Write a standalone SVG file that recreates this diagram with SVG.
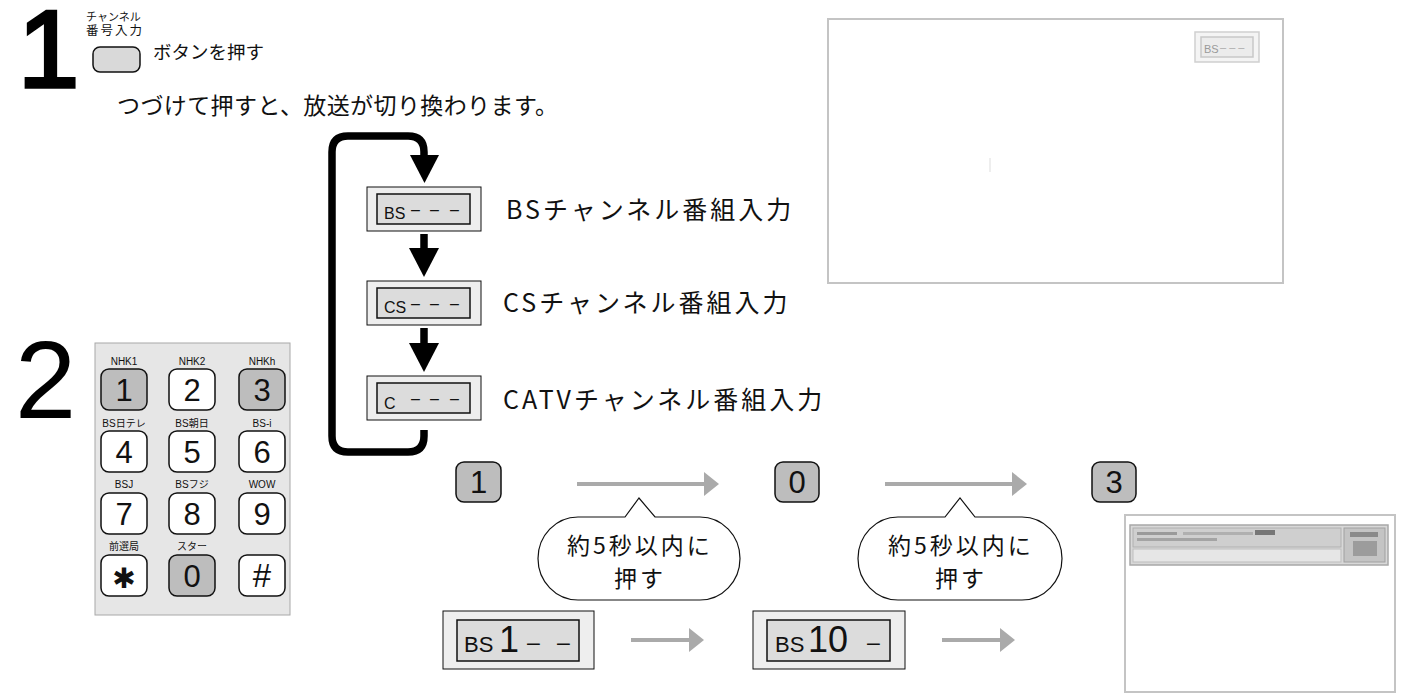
<svg xmlns="http://www.w3.org/2000/svg" width="1414" height="695" viewBox="0 0 1414 695">
<style>
.jp{font-family:"Noto Sans CJK JP","Liberation Sans",sans-serif;fill:#111}
.la{font-family:"Liberation Sans","Noto Sans CJK JP",sans-serif;fill:#111}
.big{font-family:"Liberation Sans",sans-serif;font-size:110px;fill:#000}
.key{stroke:#111;stroke-width:1.5}
.kw{fill:#fff}
.kg{fill:#bdbdbd}
.kl{font-family:"Liberation Sans","Noto Sans CJK JP",sans-serif;font-size:10px;fill:#111;text-anchor:middle}
.kd{font-family:"Liberation Sans",sans-serif;font-size:31px;fill:#111;text-anchor:middle}
.dout{fill:#eeeeee;stroke:#111;stroke-width:1}
.din{fill:#dcdcdc;stroke:#111;stroke-width:1.5}
.bub{fill:#fff;stroke:#111;stroke-width:1.2}
.garr{stroke:#aaaaaa;stroke-width:4;fill:none}
.ghead{fill:#aaaaaa}
.scr{fill:#fff;stroke:#c4c4c4;stroke-width:2}
.lbl{font-size:25px;letter-spacing:3px}
.btxt{font-size:23px;letter-spacing:3px;text-anchor:middle}
</style>

<g id="step1">
  <text class="big" x="18" y="87" stroke="#000" stroke-width="3.5">1</text>
  <text class="jp" x="86" y="21" font-size="11">チャンネル</text>
  <text class="jp" x="86" y="35" font-size="12.5" letter-spacing="2">番号入力</text>
  <rect x="93" y="47" width="47" height="25" rx="7" fill="#d9d9d9" stroke="#111" stroke-width="1.5"/>
  <text class="jp" x="153" y="59" font-size="18.5">ボタンを押す</text>
  <text class="jp" x="117" y="114" font-size="23" letter-spacing="0.4">つづけて押すと、放送が切り換わります。</text>
</g>

<g id="screen-top">
  <rect class="scr" x="828" y="19" width="455" height="264"/>
  <rect x="1195" y="32" width="64" height="30" fill="#f4f4f4" stroke="#cfcfcf" stroke-width="1.5"/>
  <rect x="1201" y="37" width="52" height="20" fill="#ececec" stroke="#c8c8c8" stroke-width="1.5"/>
  <text class="la" x="1204" y="53" font-size="11" style="fill:#9a9a9a">BS</text>
  <text class="la" x="1220" y="51" font-size="11" style="fill:#aaa">– – –</text>
  <line x1="990" y1="158" x2="990" y2="172" stroke="#eee" stroke-width="2"/>
</g>

<g id="connectors">
  <path d="M424 158 V152 Q424 136 408 136 H348 Q332 136 332 152 V436 Q332 452 348 452 H408 Q424 452 424 436 V430" fill="none" stroke="#000" stroke-width="7.5"/>
  <polygon points="410,155 439,155 424.5,183" fill="#000"/>
  <line x1="424" y1="234" x2="424" y2="251" stroke="#000" stroke-width="7.5"/>
  <polygon points="409,248 439,248 424,277" fill="#000"/>
  <line x1="424" y1="328" x2="424" y2="345" stroke="#000" stroke-width="7.5"/>
  <polygon points="409,343 439,343 424,372" fill="#000"/>
  <line class="garr" x1="577" y1="484" x2="707" y2="484"/>
  <polygon class="ghead" points="704,472 719,484 704,496"/>
  <line class="garr" x1="885" y1="484" x2="1015" y2="484"/>
  <polygon class="ghead" points="1012,472 1027,484 1012,496"/>
  <line class="garr" x1="631" y1="640" x2="692" y2="640"/>
  <polygon class="ghead" points="689,628 704,640 689,652"/>
  <line class="garr" x1="942" y1="640" x2="1003" y2="640"/>
  <polygon class="ghead" points="1000,628 1015,640 1000,652"/>
</g>

<g id="disp-bs">
  <rect class="dout" x="367" y="187" width="114" height="44"/>
  <rect class="din" x="377" y="194" width="93" height="30"/>
  <text class="la" x="384" y="219" font-size="16">BS</text>
  <text class="la" x="411 430 450" y="215" font-size="16">–––</text>
  <text class="jp lbl" x="506" y="219">BSチャンネル番組入力</text>
</g>
<g id="disp-cs">
  <rect class="dout" x="367" y="281" width="114" height="44"/>
  <rect class="din" x="377" y="288" width="93" height="30"/>
  <text class="la" x="384" y="313" font-size="16">CS</text>
  <text class="la" x="411 430 450" y="309" font-size="16">–––</text>
  <text class="jp lbl" x="503" y="312">CSチャンネル番組入力</text>
</g>
<g id="disp-catv">
  <rect class="dout" x="367" y="376" width="114" height="44"/>
  <rect class="din" x="377" y="383" width="93" height="30"/>
  <text class="la" x="384" y="409" font-size="16">C</text>
  <text class="la" x="411 430 450" y="404" font-size="16">–––</text>
  <text class="jp lbl" x="503" y="409" letter-spacing="3.8">CATVチャンネル番組入力</text>
</g>

<g id="step2">
  <text class="big" x="15" y="418" font-size="112">2</text>
</g>

<g id="keypad">
  <rect x="95" y="343" width="195" height="272" fill="#e6e6e6" stroke="#a8a8a8" stroke-width="1"/>
  <text class="kl" x="124" y="365">NHK1</text>
  <text class="kl" x="192" y="365">NHK2</text>
  <text class="kl" x="262" y="365">NHKh</text>
  <rect class="key kg" x="101" y="369" width="46" height="41" rx="8"/>
  <rect class="key kw" x="169" y="369" width="46" height="41" rx="8"/>
  <rect class="key kg" x="239" y="369" width="46" height="41" rx="8"/>
  <text class="kd" x="124" y="401">1</text>
  <text class="kd" x="192" y="401">2</text>
  <text class="kd" x="262" y="401">3</text>

  <text class="kl" x="124" y="427">BS日テレ</text>
  <text class="kl" x="192" y="427">BS朝日</text>
  <text class="kl" x="262" y="427">BS-i</text>
  <rect class="key kw" x="101" y="431" width="46" height="41" rx="8"/>
  <rect class="key kw" x="169" y="431" width="46" height="41" rx="8"/>
  <rect class="key kw" x="239" y="431" width="46" height="41" rx="8"/>
  <text class="kd" x="124" y="463">4</text>
  <text class="kd" x="192" y="463">5</text>
  <text class="kd" x="262" y="463">6</text>

  <text class="kl" x="124" y="488">BSJ</text>
  <text class="kl" x="192" y="488">BSフジ</text>
  <text class="kl" x="262" y="488">WOW</text>
  <rect class="key kw" x="101" y="493" width="46" height="41" rx="8"/>
  <rect class="key kw" x="169" y="493" width="46" height="41" rx="8"/>
  <rect class="key kw" x="239" y="493" width="46" height="41" rx="8"/>
  <text class="kd" x="124" y="525">7</text>
  <text class="kd" x="192" y="525">8</text>
  <text class="kd" x="262" y="525">9</text>

  <text class="kl" x="124" y="550">前選局</text>
  <text class="kl" x="192" y="550">スター</text>
  <rect class="key kw" x="101" y="555" width="46" height="41" rx="8"/>
  <rect class="key kg" x="169" y="555" width="46" height="41" rx="8"/>
  <rect class="key kw" x="239" y="555" width="46" height="41" rx="8"/>
  <text x="124" y="588" font-family="DejaVu Sans,sans-serif" font-size="28" font-weight="bold" text-anchor="middle" fill="#111">✱</text>
  <text class="kd" x="192" y="587">0</text>
  <text x="262" y="587" font-family="Liberation Sans,sans-serif" font-size="33" text-anchor="middle" fill="#111">#</text>
</g>

<g id="key-1">
  <rect class="key kg" x="456" y="462" width="45" height="40" rx="8"/>
  <text class="kd" x="478.5" y="493">1</text>
</g>
<g id="key-0">
  <rect class="key kg" x="775" y="462" width="44" height="40" rx="8"/>
  <text class="kd" x="797" y="493">0</text>
</g>
<g id="key-3">
  <rect class="key kg" x="1092" y="462" width="44" height="40" rx="8"/>
  <text class="kd" x="1114" y="493">3</text>
</g>

<g id="bubble-1">
  <path class="bub" d="M578 517 H625 L639 498 L655 517 H700 A40 41.5 0 0 1 700 600 H578 A40 41.5 0 0 1 578 517 Z"/>
  <text class="jp btxt" x="640" y="554">約5秒以内に</text>
  <text class="jp btxt" x="640" y="587">押す</text>
</g>
<g id="bubble-2">
  <path class="bub" d="M898 517 H945 L960 498 L975 517 H1022 A40 41.5 0 0 1 1022 600 H898 A40 41.5 0 0 1 898 517 Z"/>
  <text class="jp btxt" x="961" y="554">約5秒以内に</text>
  <text class="jp btxt" x="961" y="587">押す</text>
</g>

<g id="disp-bs1">
  <rect class="dout" x="443" y="611" width="151" height="58"/>
  <rect class="din" x="457" y="620" width="122" height="41"/>
  <text class="la" x="464" y="652" font-size="22">BS</text>
  <text class="la" x="499" y="652" font-size="36">1</text>
  <text class="la" x="527 557" y="650" font-size="23">––</text>
</g>
<g id="disp-bs10">
  <rect class="dout" x="753" y="611" width="152" height="58"/>
  <rect class="din" x="767" y="620" width="123" height="41"/>
  <text class="la" x="775" y="652" font-size="22">BS</text>
  <text class="la" x="808" y="652" font-size="36">10</text>
  <text class="la" x="867" y="650" font-size="23">–</text>
</g>

<g id="screen-bottom">
  <rect class="scr" x="1125" y="515" width="270" height="177"/>
  <rect x="1130" y="525" width="258" height="40" fill="#d8d8d8" stroke="#a8a8a8" stroke-width="1.5"/>
  <rect x="1133" y="528" width="208" height="19" fill="#cfcfcf" stroke="#b0b0b0" stroke-width="1"/>
  <rect x="1133" y="549" width="208" height="13" fill="#e6e6e6" stroke="#bdbdbd" stroke-width="1"/>
  <rect x="1344" y="528" width="41" height="34" fill="#c4c4c4" stroke="#a0a0a0" stroke-width="1"/>
  <rect x="1137" y="532" width="40" height="3" fill="#9a9a9a"/>
  <rect x="1137" y="538" width="80" height="3" fill="#a4a4a4"/>
  <rect x="1183" y="532" width="70" height="3" fill="#b0b0b0"/>
  <rect x="1255" y="530" width="20" height="5" fill="#777"/>
  <rect x="1350" y="532" width="28" height="5" fill="#8a8a8a"/>
  <rect x="1353" y="541" width="24" height="15" fill="#9c9c9c"/>
</g>
</svg>
